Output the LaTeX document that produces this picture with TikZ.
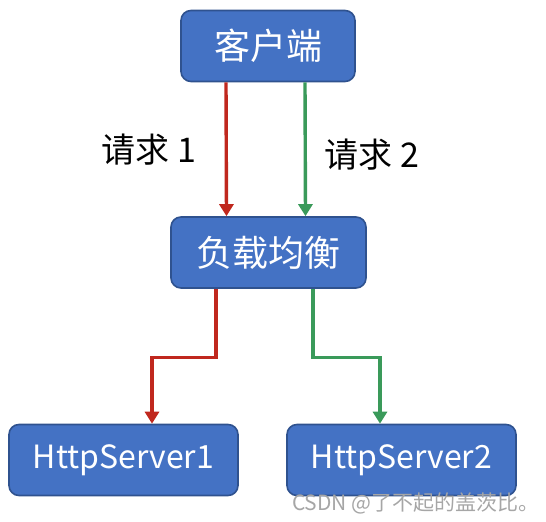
\documentclass[tikz,border=0pt]{standalone}
\usepackage{fontspec}
\setmainfont{Noto Sans CJK SC}
\usetikzlibrary{positioning, arrows.meta}
\definecolor{boxblue}{HTML}{4472C4}
\definecolor{boxline}{HTML}{2F528F}
\definecolor{reqred}{HTML}{C0281E}
\definecolor{reqgreen}{HTML}{3A9A5A}

\begin{document}
\begin{tikzpicture}[x=0.5pt, y=-0.5pt,
    box/.style={draw=boxline, line width=0.8pt, fill=boxblue, rounded corners=5pt,
      text=white, font=\fontsize{18}{20}\selectfont, minimum height=35.5pt, inner sep=0pt},
    srv/.style={box, minimum width=114.5pt, font=\fontsize{16}{20}\selectfont},
    reqone/.style={draw=reqred, line width=1.7pt, -{Triangle[width=7pt, length=6pt]}},
    reqtwo/.style={draw=reqgreen, line width=1.7pt, -{Triangle[width=7pt, length=6pt]}},
    lbl/.style={font=\fontsize{17}{19}\selectfont}]
        \useasboundingbox (0, 0) rectangle (546, 522);
        \node[box, minimum width=87pt] (client) at (268, 46) {客户端};
        \node[box, minimum width=97.5pt] (lb) at (268.5, 252.5) {负载均衡};
        \node[srv] (hs1) at (123.5, 460) {HttpServer1};
        \node[srv] (hs2) at (401.5, 460) {HttpServer2};

        \node[lbl] (req1) at (149, 150) {请求 1};
        \node[lbl] (req2) at (372, 155) {请求 2};

        \draw[reqone] ([xshift=-21pt]client.south) -- ([xshift=-21pt]lb.north);
        \draw[reqtwo] ([xshift=18.5pt]client.south) -- ([xshift=18.5pt]lb.north);
        \draw[reqone] ([xshift=-26.25pt]lb.south) -- ++(0, 69) -| ([xshift=14.25pt]hs1.north);
        \draw[reqtwo] ([xshift=22.25pt]lb.south) -- ++(0, 69) -| ([xshift=-10.75pt]hs2.north);

        \node[anchor=east, inner sep=0pt, text=black!35, font=\fontsize{10.5}{12}\selectfont] (mark) at (540, 503) {CSDN @了不起的盖茨比。};
    \end{tikzpicture}
\end{document}
